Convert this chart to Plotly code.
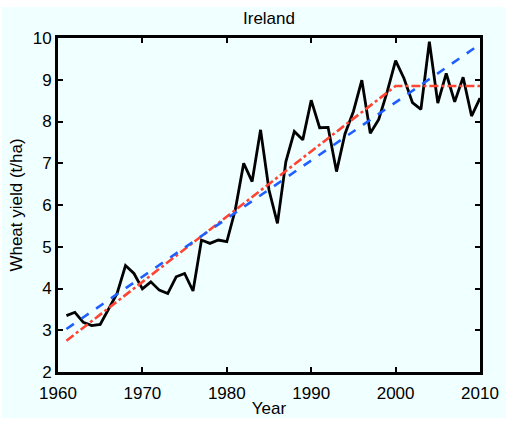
import plotly.graph_objects as go

years = list(range(1961, 2011))
yield_t_ha = [3.35, 3.43, 3.19, 3.11, 3.14, 3.50, 3.88, 4.55, 4.36, 3.99,
              4.16, 3.96, 3.88, 4.28, 4.36, 3.94, 5.16, 5.08, 5.16, 5.12,
              5.88, 7.00, 6.56, 7.80, 6.36, 5.56, 7.04, 7.76, 7.56, 8.51,
              7.85, 7.86, 6.80, 7.70, 8.24, 8.99, 7.72, 8.05, 8.71, 9.46,
              9.03, 8.45, 8.29, 9.91, 8.44, 9.15, 8.47, 9.06, 8.13, 8.56]

linear_years = [1961, 2010]
linear_trend = [3.03, 9.85]

plateau_years = [1961, 2000, 2010]
plateau_trend = [2.75, 8.85, 8.85]

x_ticks = [1960, 1970, 1980, 1990, 2000, 2010]
y_ticks = [2, 3, 4, 5, 6, 7, 8, 9, 10]

BG = "#F0FFFF"
FONT = "Liberation Sans, Arial, Helvetica, sans-serif"

fig = go.Figure()
fig.add_trace(go.Scatter(x=years, y=yield_t_ha, mode="lines",
                         line=dict(color="black", width=2.8), showlegend=False))
fig.add_trace(go.Scatter(x=plateau_years, y=plateau_trend, mode="lines",
                         line=dict(color="#FF4433", width=2.6, dash="dashdot"),
                         showlegend=False))
fig.add_trace(go.Scatter(x=linear_years, y=linear_trend, mode="lines",
                         line=dict(color="#1F5FFF", width=2.6, dash="dash"),
                         showlegend=False))

L, R, T, B = 58, 26, 38, 51
W, H = 506, 423
pw, ph = W - L - R, H - T - B

fig.add_shape(type="rect", xref="paper", yref="paper", layer="below",
              x0=(2 - L) / pw, x1=(W - L) / pw,
              y0=(H - B - 418) / ph, y1=(H - B - 7) / ph,
              fillcolor=BG, line=dict(width=0))

axis_common = dict(showline=True, linecolor="black", linewidth=3, mirror="ticks",
                   ticks="inside", ticklen=5, tickwidth=1.5, tickcolor="black",
                   showgrid=False, zeroline=False, automargin=False,
                   tickfont=dict(family=FONT, size=17, color="black"))

fig.update_layout(
    width=W, height=H,
    margin=dict(l=L, r=R, t=T, b=B),
    paper_bgcolor="white", plot_bgcolor=BG,
    font=dict(family=FONT, size=17, color="black"),
    title=dict(text="Ireland", x=0.5, xref="paper", y=1 - 18 / H, yref="container",
               xanchor="center", yanchor="middle",
               font=dict(family=FONT, size=17, color="black")),
    xaxis=dict(range=[1960, 2010], tickvals=x_ticks, ticklabelstandoff=4,
               title=dict(text="Year", standoff=0,
                          font=dict(family=FONT, size=17, color="black")),
               **axis_common),
    yaxis=dict(range=[2, 10], tickvals=y_ticks,
               title=dict(text="Wheat yield (t/ha)", standoff=6,
                          font=dict(family=FONT, size=17, color="black")),
               **axis_common),
)

fig.write_html("out.html")
